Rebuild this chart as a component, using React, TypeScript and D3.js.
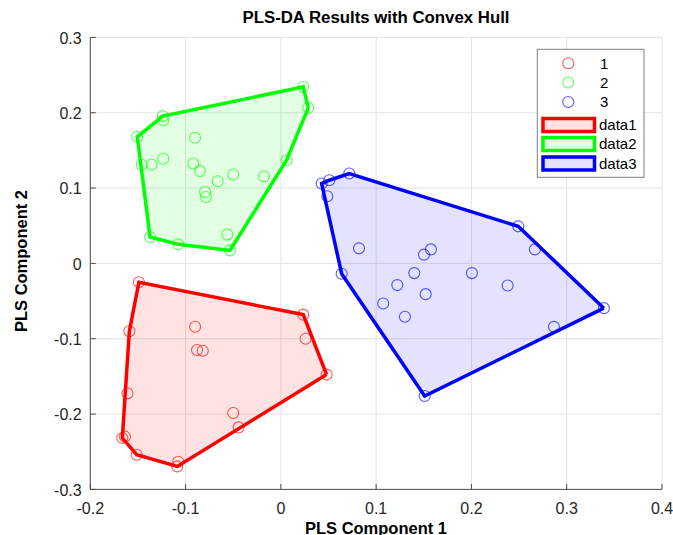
import React from "react";
import * as d3 from "d3";

// PLS-DA scores per class: [component 1, component 2]
const class1: [number, number][] = [
  [-0.149, -0.025], [-0.159, -0.09], [-0.09, -0.084], [-0.088, -0.115], [-0.082, -0.116],
  [0.0235, -0.068], [0.026, -0.1], [0.048, -0.1476], [-0.161, -0.1725], [-0.05, -0.1986],
  [-0.0443, -0.2177], [-0.1664, -0.2318], [-0.1636, -0.23], [-0.1513, -0.254],
  [-0.1077, -0.2633], [-0.1087, -0.2695],
];
const class2: [number, number][] = [
  [0.0235, 0.2344], [0.0288, 0.2065], [-0.124, 0.1955], [-0.1234, 0.19], [-0.1507, 0.168],
  [-0.09, 0.1667], [-0.1234, 0.139], [-0.146, 0.131], [-0.1356, 0.131], [-0.0919, 0.1326],
  [-0.0849, 0.1228], [-0.05, 0.118], [-0.0663, 0.109], [-0.0177, 0.1157], [0.006, 0.137],
  [-0.0796, 0.0948], [-0.0786, 0.0882], [-0.1373, 0.035], [-0.1077, 0.0253],
  [-0.0562, 0.0382], [-0.0534, 0.0173],
];
const class3: [number, number][] = [
  [0.0428, 0.106], [0.0508, 0.1104], [0.0718, 0.1193], [0.0487, 0.0891], [0.2491, 0.0492],
  [0.2666, 0.0186], [0.082, 0.02], [0.1502, 0.0116], [0.1575, 0.0186], [0.0638, -0.0137],
  [0.14, -0.0129], [0.2005, -0.0129], [0.1222, -0.0288], [0.238, -0.0293], [0.152, -0.0408],
  [0.1074, -0.0532], [0.1302, -0.0709], [0.339, -0.0594], [0.2866, -0.0842], [0.1509, -0.176],
];

const classNames = ["1", "2", "3"];
const hullNames = ["data1", "data2", "data3"];
const classColors = ["#ff0000", "#00ff00", "#0000ff"];
const xTicks = [-0.2, -0.1, 0, 0.1, 0.2, 0.3, 0.4];
const yTicks = [-0.3, -0.2, -0.1, 0, 0.1, 0.2, 0.3];

const W = 673;
const H = 535;
const FONT = "'Liberation Sans', Arial, Helvetica, sans-serif";

export default function App() {
  const x = d3.scaleLinear().domain([-0.2, 0.4]).range([90.3, 662]);
  const y = d3.scaleLinear().domain([-0.3, 0.3]).range([489.4, 37.4]);
  const groups = [class1, class2, class3];
  const fmt = (v: number) => (Math.abs(v) < 1e-9 ? "0" : v.toFixed(1));

  const hulls = groups.map((g) => {
    const pts = g.map(([a, b]) => [x(a), y(b)] as [number, number]);
    const hull = d3.polygonHull(pts) || [];
    return d3.line()(hull.concat([hull[0]])) + "";
  });

  const lg = { x: 537.3, y: 49.3, w: 106.7, h: 128 };
  const rowY = [63.3, 82.5, 102, 125, 144, 163.5];

  return (
    <svg
      width={W}
      height={H}
      style={{ position: "absolute", left: 0, top: 0, background: "#fff" }}
      fontFamily={FONT}
    >
      <rect width={W} height={H} fill="#fff" />
      {/* grid */}
      {xTicks.map((t) => (
        <line key={"gx" + t} x1={x(t)} x2={x(t)} y1={y(0.3)} y2={y(-0.3)} stroke="#e3e3e3" strokeWidth={1} />
      ))}
      {yTicks.map((t) => (
        <line key={"gy" + t} x1={x(-0.2)} x2={x(0.4)} y1={y(t)} y2={y(t)} stroke="#e3e3e3" strokeWidth={1} />
      ))}

      {/* class markers */}
      {groups.map((g, i) =>
        g.map(([a, b], j) => (
          <circle
            key={`p${i}-${j}`}
            cx={x(a)}
            cy={y(b)}
            r={5.5}
            fill="none"
            stroke={classColors[i]}
            strokeOpacity={0.65}
            strokeWidth={1.1}
          />
        ))
      )}

      {/* convex hulls */}
      {hulls.map((d, i) => (
        <path
          key={"h" + i}
          d={d}
          fill={classColors[i]}
          fillOpacity={0.11}
          stroke={classColors[i]}
          strokeWidth={3.5}
        />
      ))}

      {/* axes */}
      <line x1={x(-0.2)} x2={x(-0.2)} y1={y(0.3)} y2={y(-0.3)} stroke="#4d4d4d" strokeWidth={1} />
      <line x1={x(-0.2)} x2={x(0.4)} y1={y(-0.3)} y2={y(-0.3)} stroke="#4d4d4d" strokeWidth={1} />
      {xTicks.map((t) => (
        <g key={"tx" + t}>
          <line x1={x(t)} x2={x(t)} y1={y(-0.3)} y2={y(-0.3) - 5.5} stroke="#4d4d4d" strokeWidth={1} />
          <text x={x(t)} y={514} textAnchor="middle" fontSize={16} fill="#262626">
            {fmt(t)}
          </text>
        </g>
      ))}
      {yTicks.map((t) => (
        <g key={"ty" + t}>
          <line x1={x(-0.2)} x2={x(-0.2) + 5.5} y1={y(t)} y2={y(t)} stroke="#4d4d4d" strokeWidth={1} />
          <text x={81.7} y={y(t)} dy="0.4em" textAnchor="end" fontSize={16} fill="#262626">
            {fmt(t)}
          </text>
        </g>
      ))}

      {/* titles */}
      <text x={376} y={23} textAnchor="middle" fontSize={16.8} fontWeight="bold" fill="#000">
        PLS-DA Results with Convex Hull
      </text>
      <text x={376} y={533.5} textAnchor="middle" fontSize={16.5} fontWeight="bold" fill="#000">
        PLS Component 1
      </text>
      <text
        transform={`translate(26.5,261) rotate(-90)`}
        textAnchor="middle"
        fontSize={16.5}
        fontWeight="bold"
        fill="#000"
      >
        PLS Component 2
      </text>

      {/* legend */}
      <rect x={lg.x} y={lg.y} width={lg.w} height={lg.h} fill="#fff" stroke="#7f7f7f" strokeWidth={1} />
      {classNames.map((n, i) => (
        <g key={"lc" + n}>
          <circle cx={568.3} cy={rowY[i]} r={5.5} fill="none" stroke={classColors[i]} strokeOpacity={0.65} strokeWidth={1.1} />
          <text x={600} y={rowY[i]} dy="0.36em" fontSize={15} fill="#000">
            {n}
          </text>
        </g>
      ))}
      {hullNames.map((n, i) => (
        <g key={"lh" + n}>
          <rect
            x={543}
            y={rowY[i + 3] - 6.5}
            width={51.5}
            height={13}
            fill={classColors[i]}
            fillOpacity={0.11}
            stroke={classColors[i]}
            strokeWidth={3.5}
          />
          <text x={599} y={rowY[i + 3]} dy="0.36em" fontSize={15} fill="#000">
            {n}
          </text>
        </g>
      ))}
    </svg>
  );
}
